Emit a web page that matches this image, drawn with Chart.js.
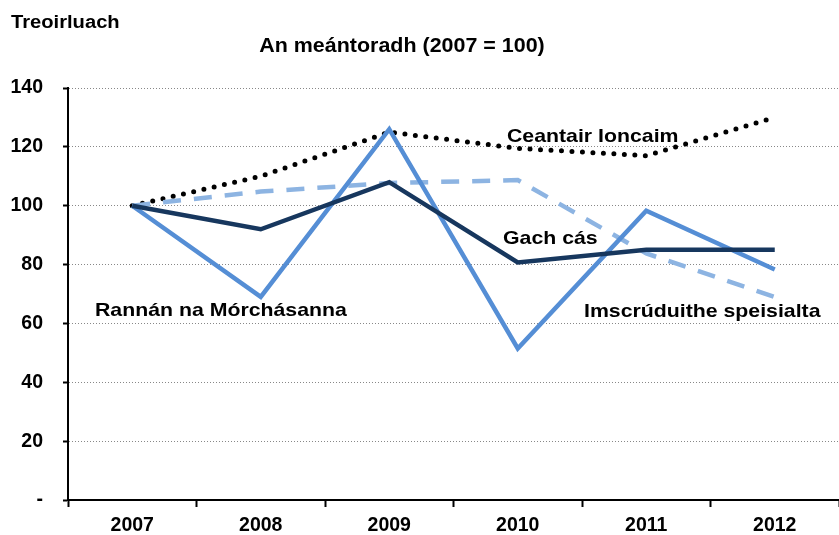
<!DOCTYPE html>
<html>
<head>
<meta charset="utf-8">
<script src="https://cdn.jsdelivr.net/npm/chart.js@4"></script>
<style>
  body { margin: 0; background: #fff; }
  #wrap { width: 839px; height: 535px; }
</style>
</head>
<body>
<div id="wrap"><canvas id="chart" width="839" height="535"></canvas></div>
<script>
// --- Data ---
const years = ['2007', '2008', '2009', '2010', '2011', '2012'];
const gachCas = [100, 92, 108, 80.7, 85, 85];
const rannan = [100, 69, 126, 51.5, 98.3, 78.3];
const imscruduithe = [100, 104.8, 107.7, 108.7, 83.8, 69];
const ceantair = [100, 110, 125, 119.5, 117, 130];
const yTicks = [0, 20, 40, 60, 80, 100, 120, 140];

const FONT = '"Liberation Sans", Arial, sans-serif';

// text drawn on top: axis name, title and line labels
const notes = [
    { text: 'Treoirluach', x: 11, y: 28, size: 18, sx: 1.12, align: 'left' },
    { text: 'An meántoradh (2007 = 100)', x: 402, y: 52, size: 19.5, sx: 1.1, align: 'center' },
    { text: 'Ceantair Ioncaim', x: 507, y: 142, size: 19, sx: 1.12, align: 'left' },
    { text: 'Gach cás', x: 503, y: 244, size: 19, sx: 1.12, align: 'left' },
    { text: 'Rannán na Mórchásanna', x: 95, y: 316, size: 19, sx: 1.12, align: 'left' },
    { text: 'Imscrúduithe speisialta', x: 584, y: 317, size: 19, sx: 1.12, align: 'left' }
];

const notesPlugin = {
    id: 'notes',
    afterDraw(chart) {
        const ctx = chart.ctx;
        notes.forEach(n => {
            ctx.save();
            ctx.font = `bold ${n.size}px ${FONT}`;
            ctx.fillStyle = '#000';
            ctx.textBaseline = 'alphabetic';
            ctx.textAlign = n.align;
            ctx.translate(n.x, n.y);
            ctx.scale(n.sx, 1);
            ctx.fillText(n.text, 0, 0);
            ctx.restore();
        });
    }
};

new Chart(document.getElementById('chart'), {
    type: 'line',
    data: {
        labels: years,
        datasets: [
            { label: 'Gach cás', data: gachCas, borderColor: '#17375E', borderWidth: 4.5, order: 1 },
            { label: 'Rannán na Mórchásanna', data: rannan, borderColor: '#558ED5', borderWidth: 4.5, order: 2 },
            { label: 'Imscrúduithe speisialta', data: imscruduithe, borderColor: '#8DB4E2', borderWidth: 4.5, borderDash: [18, 13], order: 3 },
            { label: 'Ceantair Ioncaim', data: ceantair, borderColor: '#000', borderWidth: 5, borderDash: [0, 10.5], borderCapStyle: 'round', order: 4 }
        ]
    },
    options: {
        responsive: false,
        animation: false,
        events: [],
        layout: { padding: { top: 88, left: 0, right: 0, bottom: 0 } },
        elements: {
            point: { radius: 0 },
            line: { tension: 0, fill: false }
        },
        plugins: {
            legend: { display: false },
            tooltip: { enabled: false }
        },
        scales: {
            x: {
                offset: true,
                grid: { offset: true, drawOnChartArea: false, tickLength: 7, tickColor: '#000', tickWidth: 2 },
                border: { color: '#000', width: 2 },
                ticks: { color: '#000', padding: 7, font: { family: FONT, size: 19.5, weight: 'bold' } },
                afterFit(scale) { scale.height = 35; }
            },
            y: {
                min: 0,
                max: 140,
                afterBuildTicks(scale) { scale.ticks = yTicks.map(v => ({ value: v })); },
                grid: { color: '#888', lineWidth: 1, tickLength: 5, tickColor: '#000', tickWidth: 2 },
                border: { color: '#000', width: 2, dash: [1, 2] },
                ticks: {
                    color: '#000',
                    padding: 20,
                    font: { family: FONT, size: 19.5, weight: 'bold' },
                    callback: v => v === 0 ? '-' : v
                },
                afterFit(scale) { scale.width = 68; }
            }
        }
    },
    plugins: [notesPlugin]
});
</script>
</body>
</html>
